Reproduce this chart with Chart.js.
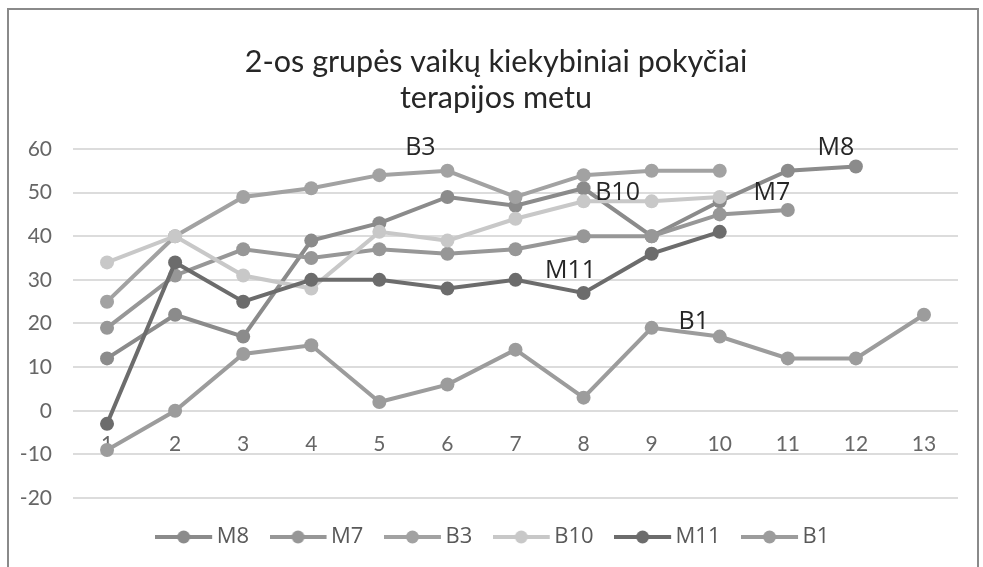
<!DOCTYPE html>
<html><head><meta charset="utf-8">
<script src="https://cdn.jsdelivr.net/npm/chart.js@4"></script>
<style>html,body{margin:0;padding:0;background:#fff}#wrap{width:983px;height:567px;position:relative}</style>
</head><body><div id="wrap"><canvas id="c" width="983" height="567"></canvas></div>
<script>
// ---- data ----
const categories = ['1','2','3','4','5','6','7','8','9','10','11','12','13'];
const seriesNames = ['M8','M7','B3','B10','M11','B1'];
const M8  = [12, 22, 17, 39, 43, 49, 47, 51, 40, 48, 55, 56, null];
const M7  = [19, 31, 37, 35, 37, 36, 37, 40, 40, 45, 46, null, null];
const B3  = [25, 40, 49, 51, 54, 55, 49, 54, 55, 55, null, null, null];
const B10 = [34, 40, 31, 28, 41, 39, 44, 48, 48, 49, null, null, null];
const M11 = [-3, 34, 25, 30, 30, 28, 30, 27, 36, 41, null, null, null];
const B1  = [-9, 0, 13, 15, 2, 6, 14, 3, 19, 17, 12, 12, 22];
const yMin = -20, yMax = 60, yStep = 10;
const titleLines = ['2-os grupės vaikų kiekybiniai pokyčiai', 'terapijos metu'];

// ---- styles ----
const seriesValues = [M8, M7, B3, B10, M11, B1];
const seriesColors = ['#8b8b8b', '#979797', '#a2a2a2', '#c8c8c8', '#6c6c6c', '#9c9c9c'];
// annotation placement: which point each series name is written near, offset in px
const labelPlacement = [
  {series: 'B3',  index: 5,  dx: -27, dy: -23},
  {series: 'B10', index: 7,  dx: 34,  dy: -8},
  {series: 'M11', index: 7,  dx: -13, dy: -22},
  {series: 'M7',  index: 10, dx: -16, dy: -17},
  {series: 'M8',  index: 11, dx: -20, dy: -19},
  {series: 'B1',  index: 9,  dx: -26, dy: -15}
];

function legendImage(color) {
  const c = document.createElement('canvas');
  c.width = 58; c.height = 16;
  const g = c.getContext('2d');
  g.strokeStyle = color; g.lineWidth = 4;
  g.beginPath(); g.moveTo(0, 8); g.lineTo(57, 8); g.stroke();
  g.fillStyle = color;
  g.beginPath(); g.arc(28.5, 8, 6.5, 0, Math.PI * 2); g.fill();
  return c;
}

const framePlugin = {
  id: 'frame',
  beforeDraw(chart) {
    const ctx = chart.ctx;
    ctx.save();
    ctx.fillStyle = '#ffffff';
    ctx.fillRect(0, 0, chart.width, chart.height);
    ctx.strokeStyle = '#8a8a8a';
    ctx.lineWidth = 2;
    ctx.strokeRect(8, 9, 970, 600);
    ctx.restore();
  }
};

const nameLabelPlugin = {
  id: 'nameLabels',
  afterDatasetsDraw(chart) {
    const ctx = chart.ctx;
    ctx.save();
    ctx.font = '25px "Open Sans"';
    ctx.fillStyle = '#262626';
    ctx.textAlign = 'center';
    ctx.textBaseline = 'middle';
    labelPlacement.forEach(p => {
      const di = seriesNames.indexOf(p.series);
      const pt = chart.getDatasetMeta(di).data[p.index];
      ctx.fillText(p.series, pt.x + p.dx, pt.y + p.dy);
    });
    ctx.restore();
  }
};

const datasets = seriesNames.map((name, i) => ({
  label: name,
  data: seriesValues[i],
  borderColor: seriesColors[i],
  backgroundColor: seriesColors[i],
  pointBackgroundColor: seriesColors[i],
  pointBorderColor: seriesColors[i],
  pointBorderWidth: 0,
  pointRadius: 7,
  borderWidth: 4,
  tension: 0,
  spanGaps: false,
  order: seriesNames.length - i
}));

new Chart(document.getElementById('c'), {
  type: 'line',
  data: {labels: categories, datasets},
  plugins: [framePlugin, nameLabelPlugin],
  options: {
    responsive: false,
    animation: false,
    layout: {padding: {left: 17, right: 8, top: 0, bottom: 9}},
    plugins: {
      title: {
        display: true,
        text: titleLines,
        color: '#262626',
        font: {family: 'Lato', size: 30.5, weight: 'normal', lineHeight: 1.18},
        padding: {top: 44, bottom: 33}
      },
      legend: {
        position: 'bottom',
        labels: {
          usePointStyle: true,
          pointStyleWidth: 43,
          padding: 28,
          color: '#595959',
          font: {family: 'Open Sans', size: 22},
          sort: (a, b) => a.datasetIndex - b.datasetIndex,
          generateLabels(chart) {
            const items = Chart.defaults.plugins.legend.labels.generateLabels(chart);
            items.forEach(it => { it.pointStyle = legendImage(seriesColors[it.datasetIndex]); });
            return items;
          }
        }
      },
      tooltip: {enabled: false}
    },
    scales: {
      x: {
        type: 'category',
        offset: true,
        position: {y: 0},
        grid: {display: false, drawTicks: false},
        border: {display: false},
        ticks: {font: {family: 'Lato', size: 21}, color: '#666666', padding: 21, maxRotation: 0, autoSkip: false}
      },
      y: {
        min: yMin, max: yMax,
        afterFit(scale) { scale.width = 56; },
        grid: {color: '#dcdcdc', lineWidth: 2, drawTicks: false},
        border: {display: false},
        ticks: {stepSize: yStep, font: {family: 'Lato', size: 21}, color: '#666666', padding: 21}
      },
      spacer: {
        position: 'right',
        axis: 'y',
        afterFit(scale) { scale.width = 17; },
        grid: {display: false, drawTicks: false},
        border: {display: false},
        ticks: {display: false}
      }
    }
  }
});
</script>
</body></html>
